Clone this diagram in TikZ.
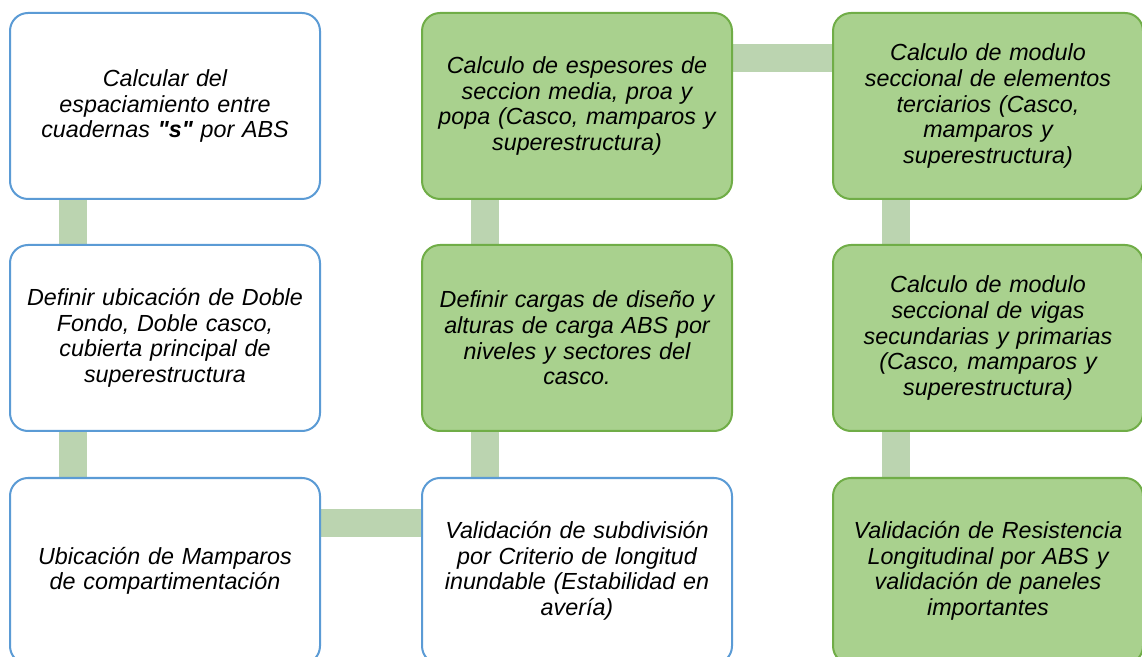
\documentclass[tikz,border=0pt]{standalone}
\usepackage{fontspec}
\setmainfont{Liberation Sans}[Ligatures=TeXOff]
\usetikzlibrary{backgrounds}
\definecolor{boxblue}{RGB}{91,155,213}
\definecolor{boxgreen}{RGB}{169,209,142}
\definecolor{edgegreen}{RGB}{112,173,71}
\definecolor{linkgreen}{RGB}{187,212,176}

\begin{document}
\begin{tikzpicture}[x=1pt, y=1pt,
    stage/.style={draw=boxblue, line width=2pt, fill=white, rounded corners=18pt,
        minimum width=310pt, minimum height=186pt, text width=300pt, align=center,
        inner sep=0pt, font=\fontsize{23.3}{25.6}\selectfont\itshape},
    done/.style={stage, draw=edgegreen, fill=boxgreen},
    link/.style={draw=linkgreen, line width=28pt}]
    \useasboundingbox (0,0) rectangle (1142,656);
    \clip (0,0) rectangle (1142,656);

    % first column
    \node[stage] (espaciamiento) at (165,550) {Calcular del\\espaciamiento entre\\cuadernas \textbf{"s"} por ABS};
    \node[stage] (ubicacion) at (165,318) {Definir ubicación de Doble\\Fondo, Doble casco,\\cubierta principal de\\superestructura};
    \node[stage] (mamparos) at (165,85) {Ubicación de Mamparos\\de compartimentación};

    % second column
    \node[done] (espesores) at (577,550) {Calculo de espesores de\\seccion media, proa y\\popa (Casco, mamparos y\\superestructura)};
    \node[done] (cargas) at (577,318) {Definir cargas de diseño y\\alturas de carga ABS por\\niveles y sectores del\\casco.};
    \node[stage] (subdivision) at (577,85) {Validación de subdivisión\\por Criterio de longitud\\inundable (Estabilidad en\\avería)};

    % third column
    \node[done] (terciarios) at (988,550) {Calculo de modulo\\seccional de elementos\\terciarios (Casco,\\mamparos y\\superestructura)};
    \node[done] (vigas) at (988,318) {Calculo de modulo\\seccional de vigas\\secundarias y primarias\\(Casco, mamparos y\\superestructura)};
    \node[done] (resistencia) at (988,85) {Validación de Resistencia\\Longitudinal por ABS y\\validación de paneles\\importantes};

    \begin{scope}[on background layer]
        \draw[link] ([xshift=64pt]espaciamiento.south west) -- ([xshift=64pt]ubicacion.north west);
        \draw[link] ([xshift=64pt]ubicacion.south west) -- ([xshift=64pt]mamparos.north west);
        \draw[link] ([yshift=-46pt]mamparos.north east) -- ([yshift=-46pt]subdivision.north west);
        \draw[link] ([xshift=64pt]subdivision.north west) -- ([xshift=64pt]cargas.south west);
        \draw[link] ([xshift=64pt]cargas.north west) -- ([xshift=64pt]espesores.south west);
        \draw[link] ([yshift=-46pt]espesores.north east) -- ([yshift=-46pt]terciarios.north west);
        \draw[link] ([xshift=64pt]terciarios.south west) -- ([xshift=64pt]vigas.north west);
        \draw[link] ([xshift=64pt]vigas.south west) -- ([xshift=64pt]resistencia.north west);
    \end{scope}
\end{tikzpicture}
\end{document}
